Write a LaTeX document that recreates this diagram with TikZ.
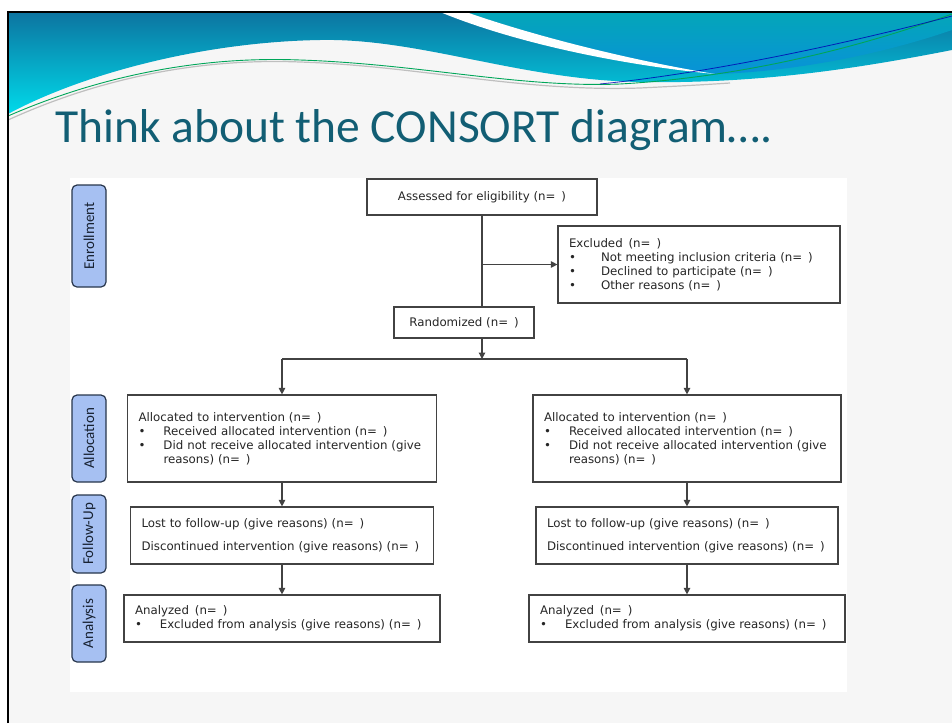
\documentclass[tikz,border=0pt]{standalone}
\usepackage{fontspec}
\usepackage{xcolor}
\usetikzlibrary{arrows.meta}
\newfontfamily\slidefont{Carlito}
\newfontfamily\boxfont{DejaVu Sans}
\definecolor{hdtop}{RGB}{12,116,160}
\definecolor{hdcyan}{RGB}{0,218,234}
\definecolor{hdteal}{RGB}{4,166,184}
\definecolor{hdblue}{RGB}{8,146,216}
\definecolor{ttlcol}{RGB}{18,94,116}
\definecolor{sidefill}{RGB}{166,192,242}
\definecolor{sideline}{RGB}{40,54,76}
\definecolor{sidetext}{RGB}{24,34,50}
\definecolor{boxline}{RGB}{66,66,66}
\definecolor{slidebg}{RGB}{246,246,246}
\newcommand{\bul}[1][25pt]{\makebox[#1][l]{\textbullet}}
\newcommand{\nn}{(n=\enspace)}

\begin{document}
\begin{tikzpicture}[x=1pt, y=-1pt, >={Triangle[length=6.5pt, width=6.5pt]},
    every node/.style={font=\boxfont\fontsize{11.8}{14}\selectfont, text=black!85},
    box/.style={draw=boxline, line width=1.2pt, fill=white, inner xsep=11pt, inner ysep=0pt},
    listbox/.style={box, align=left},
    side/.style={draw=sideline, line width=1.2pt, fill=sidefill, rounded corners=5pt, rotate=90,
        minimum height=34pt, inner sep=0pt, font=\slidefont\fontsize{15}{16}\selectfont, text=sidetext},
    link/.style={draw=boxline, line width=1.2pt}]
    \useasboundingbox (0, 0) rectangle (952, 723);
    \fill[white] (0, 0) rectangle (952, 723);
    \fill[slidebg] (8, 12) rectangle (952, 723);
    \shade[top color=hdtop, bottom color=hdcyan] (8, 12) -- (952, 12) -- (952, 50)
        .. controls (860, 68) and (760, 84) .. (640, 82)
        .. controls (520, 80) and (420, 38) .. (320, 40)
        .. controls (200, 42) and (80, 75) .. (8, 114) -- cycle;
    \shade[top color=hdteal, bottom color=hdblue] (466, 12) -- (952, 12) -- (952, 30)
        .. controls (880, 55) and (790, 72) .. (715, 74)
        .. controls (640, 62) and (540, 38) .. (466, 12) -- cycle;
    \fill[white] (440, 12) -- (466, 12) .. controls (540, 38) and (640, 62) .. (715, 74)
        .. controls (630, 66) and (520, 45) .. (440, 12) -- cycle;
    \draw[black!25, line width=1.2pt] (8, 120) .. controls (100, 78) and (200, 58) .. (300, 62)
        .. controls (420, 66) and (520, 92) .. (640, 88) .. controls (680, 86) and (700, 85) .. (730, 83);
    \draw[teal!70!green, line width=0.9pt] (8, 116) .. controls (100, 76) and (200, 56) .. (300, 60)
        .. controls (420, 64) and (520, 88) .. (620, 84) .. controls (760, 76) and (880, 40) .. (952, 14);
    \draw[blue!70!black, line width=0.8pt, opacity=0.8] (600, 84) .. controls (720, 72) and (860, 40) .. (952, 16);
    \draw[line width=2.6pt] (8, 723) -- (8, 12) -- (952, 12);
    \node[font=\slidefont\fontsize{47.5}{54}\selectfont, text=ttlcol, anchor=base west, inner sep=0pt] (0) at (55, 142) {Think about the CONSORT diagram….};
    \fill[white] (70, 178) rectangle (847, 692);
    \node[side, minimum width=102pt] (31) at (89, 236) {Enrollment};
    \node[side, minimum width=87pt] (32) at (89, 438.5) {Allocation};
    \node[side, minimum width=78pt] (33) at (89, 534) {Follow-Up};
    \node[side, minimum width=77pt] (34) at (89, 623.5) {Analysis};
    \node[box, minimum width=230pt, minimum height=36pt] (1) at (482, 197) {Assessed for eligibility \nn};
    \node[listbox, text width=260pt, minimum height=77pt] (2) at (699, 264.5) {Excluded\enspace\nn\\
        \bul[32pt]Not meeting inclusion criteria \nn\\
        \bul[32pt]Declined to participate \nn\\
        \bul[32pt]Other reasons \nn};
    \node[box, minimum width=140pt, minimum height=31pt] (3) at (464, 322.5) {Randomized \nn};
    \node[listbox, text width=287pt, minimum height=87pt] (11) at (282, 438.5) {Allocated to intervention \nn\\
        \bul Received allocated intervention \nn\\
        \bul Did not receive allocated intervention (give\\
        \hspace*{25pt}reasons) \nn};
    \node[listbox, text width=281pt, minimum height=57pt] (12) at (282, 535.5) {Lost to follow-up (give reasons) \nn\\[9pt]
        Discontinued intervention (give reasons) \nn};
    \node[listbox, text width=294pt, minimum height=47pt] (13) at (282, 618.5) {Analyzed\enspace\nn\\
        \bul Excluded from analysis (give reasons) \nn};
    \node[listbox, text width=286pt, minimum height=87pt] (21) at (687, 438.5) {Allocated to intervention \nn\\
        \bul Received allocated intervention \nn\\
        \bul Did not receive allocated intervention (give\\
        \hspace*{25pt}reasons) \nn};
    \node[listbox, text width=280pt, minimum height=57pt] (22) at (687, 535.5) {Lost to follow-up (give reasons) \nn\\[9pt]
        Discontinued intervention (give reasons) \nn};
    \node[listbox, text width=294pt, minimum height=47pt] (23) at (687, 618.5) {Analyzed\enspace\nn\\
        \bul Excluded from analysis (give reasons) \nn};
    \coordinate (41) at (482, 359);
    \draw [link] (1) to (1 |- 3.north);
    \draw [link, ->] (1 |- 2.west) to (2.west);
    \draw [link, ->] (3.south -| 1) to (41);
    \draw [link] (11 |- 41) to (21 |- 41);
    \draw [link, ->] (11 |- 41) to (11);
    \draw [link, ->] (21 |- 41) to (21);
    \draw [link, ->] (11) to (12);
    \draw [link, ->] (12) to (13);
    \draw [link, ->] (21) to (22);
    \draw [link, ->] (22) to (23);
\end{tikzpicture}
\end{document}
